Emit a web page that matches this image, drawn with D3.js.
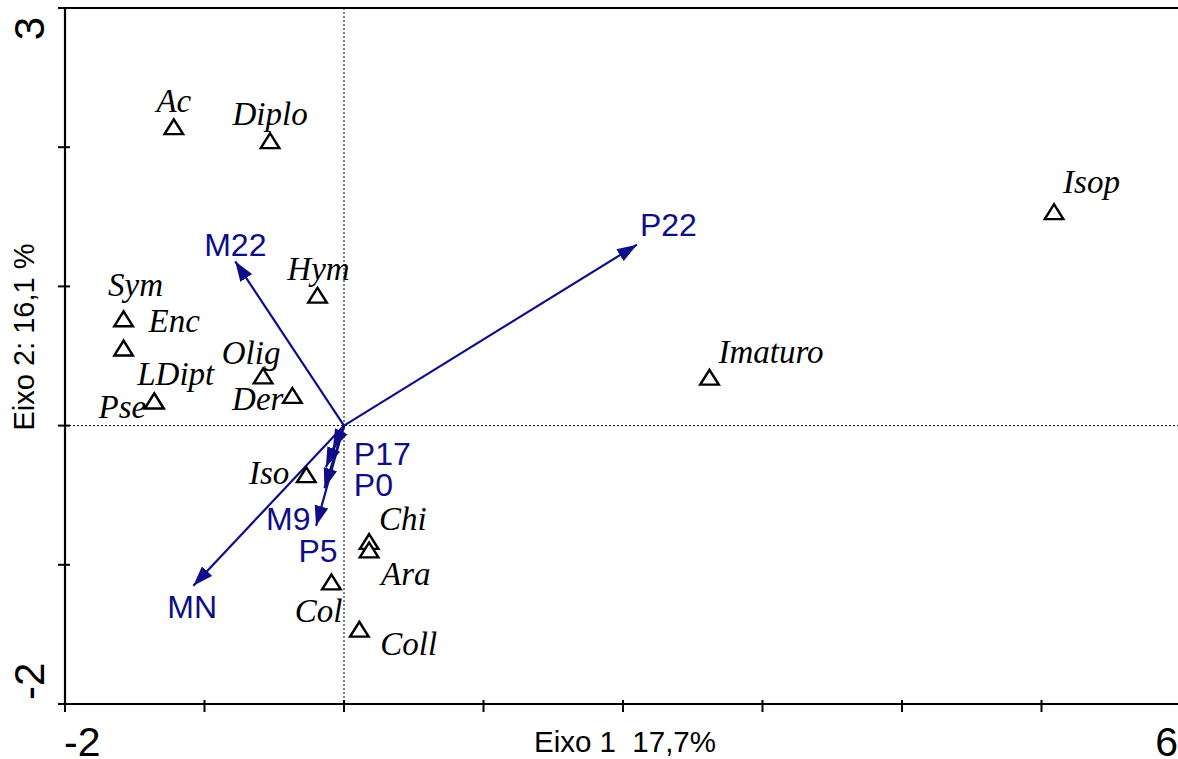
<!DOCTYPE html>
<html>
<head>
<meta charset="utf-8">
<script src="https://cdn.jsdelivr.net/npm/d3@7"></script>
<style>
  html, body { margin: 0; padding: 0; background: #fff; }
  svg { display: block; }
</style>
</head>
<body>
<svg id="chart" width="1178" height="759"></svg>
<script>
// ---------- data ----------
const speciesNames = ["Ac","Diplo","Isop","Hym","Sym","Enc","LDipt","Pse","Olig","Der","Imaturo","Iso","Chi","Ara","Col","Coll"];
const speciesX =     [-1.22,-0.53, 5.09,-0.19,-1.58,-1.58,-1.36,-1.36,-0.58,-0.37, 2.62,-0.27, 0.18, 0.18,-0.09, 0.11];
const speciesY =     [ 2.14, 2.04, 1.53, 0.93, 0.76, 0.55, 0.17, 0.17, 0.35, 0.21, 0.34,-0.36,-0.84,-0.90,-1.13,-1.47];

const envNames = ["P22","M22","MN","M9","P5","P0","P17"];
const envX =     [ 2.10,-0.78,-1.08,-0.20,-0.14,-0.13,-0.08];
const envY =     [ 1.30, 1.18,-1.15,-0.72,-0.45,-0.30,-0.17];

const xDomain = [-2, 6];
const yDomain = [-2, 3];
const xTickLabels = ["-2", "6"];
const yTickLabels = ["3", "-2"];
const xTitle = "Eixo 1  17,7%";
const yTitle = "Eixo 2: 16,1 %";

// ---------- layout (label placement, px offsets) ----------
const spLabel = {
  Ac:{dx:0,dy:-16,a:"middle"}, Diplo:{dx:0,dy:-17,a:"middle"}, Isop:{dx:9,dy:-20,a:"start"},
  Hym:{dx:1,dy:-16,a:"middle"}, Sym:{dx:12,dy:-24,a:"middle"}, Enc:{dx:25,dy:-17,a:"start"},
  LDipt:{dx:-17,dy:-17,a:"start"}, Pse:{dx:-8,dy:16,a:"end"}, Olig:{dx:-12,dy:-13,a:"middle"},
  Der:{dx:-9,dy:14,a:"end"}, Imaturo:{dx:9,dy:-15,a:"start"}, Iso:{dx:-17,dy:8,a:"end"},
  Chi:{dx:10,dy:-13,a:"start"}, Ara:{dx:12,dy:34,a:"start"}, Col:{dx:11,dy:39,a:"end"},
  Coll:{dx:21,dy:25,a:"start"}
};
const envLabel = {
  P22:{dx:3,dy:-9,a:"start"}, M22:{dx:-31,dy:-5,a:"start"}, MN:{dx:-26,dy:32,a:"start"},
  M9:{dx:-50,dy:4,a:"start"}, P5:{dx:-26,dy:74,a:"start"}, P0:{dx:28,dy:29,a:"start"},
  P17:{dx:21,dy:16,a:"start"}
};

const navy = "#0e0e86";
const svg = d3.select("#chart");
const x = d3.scaleLinear().domain(xDomain).range([65, 1181]);
const y = d3.scaleLinear().domain(yDomain).range([704, 8]);

// arrow marker
svg.append("defs").append("marker")
  .attr("id","ah").attr("markerUnits","userSpaceOnUse")
  .attr("viewBox","0 -7 20 14").attr("refX",20).attr("refY",0)
  .attr("markerWidth",20).attr("markerHeight",14).attr("orient","auto")
  .append("path").attr("d","M0,-7L20,0L0,7Z").attr("fill",navy);

// dotted zero lines
svg.append("line").attr("x1",x(0)).attr("x2",x(0)).attr("y1",y(3)).attr("y2",y(-2))
  .attr("stroke","#000").attr("stroke-width",1).attr("stroke-dasharray","2,2");
svg.append("line").attr("x1",x(-2)).attr("x2",x(6)).attr("y1",y(0)).attr("y2",y(0))
  .attr("stroke","#000").attr("stroke-width",1).attr("stroke-dasharray","2,2");

// frame
const frame = svg.append("g").attr("stroke","#000").attr("stroke-width",2.2);
frame.append("line").attr("x1",x(-2)).attr("x2",x(-2)).attr("y1",y(3)).attr("y2",y(-2));
frame.append("line").attr("x1",x(-2)).attr("x2",x(6)).attr("y1",y(3)).attr("y2",y(3));
frame.append("line").attr("x1",x(-2)).attr("x2",x(6)).attr("y1",y(-2)).attr("y2",y(-2));

// ticks
const tk = svg.append("g").attr("stroke","#000").attr("stroke-width",2);
tk.selectAll(".xt").data(x.ticks(8)).join("line")
  .attr("x1",d=>x(d)).attr("x2",d=>x(d)).attr("y1",y(-2)-4).attr("y2",y(-2)+8);
tk.selectAll(".yt").data(y.ticks(5)).join("line")
  .attr("y1",d=>y(d)).attr("y2",d=>y(d)).attr("x1",x(-2)-7).attr("x2",x(-2)+5);

// tick labels
const tickFont = "'Liberation Sans', Arial, sans-serif";
svg.append("text").attr("x",x(-2)-1).attr("y",756).attr("text-anchor","start")
  .attr("font-family",tickFont).attr("font-size",41).text(xTickLabels[0]);
svg.append("text").attr("x",1178).attr("y",756).attr("text-anchor","end")
  .attr("font-family",tickFont).attr("font-size",41).text(xTickLabels[1]);
svg.append("text").attr("transform",`translate(44,${y(3)+9}) rotate(-90)`).attr("text-anchor","end")
  .attr("font-family",tickFont).attr("font-size",42).text(yTickLabels[0]);
svg.append("text").attr("transform",`translate(44,${y(-2)-4}) rotate(-90)`).attr("text-anchor","start")
  .attr("font-family",tickFont).attr("font-size",42).text(yTickLabels[1]);

// axis titles
svg.append("text").attr("x",625).attr("y",752).attr("text-anchor","middle")
  .attr("font-family",tickFont).attr("font-size",29.5)
  .style("white-space","pre").text(xTitle);
svg.append("text").attr("transform","translate(34,337) rotate(-90)").attr("text-anchor","middle")
  .attr("font-family",tickFont).attr("font-size",29).text(yTitle);

// env arrows
const envData = envNames.map((n,i)=>({name:n, x:envX[i], y:envY[i]}));
svg.append("g").selectAll("line").data(envData).join("line")
  .attr("x1",x(0)).attr("y1",y(0)).attr("x2",d=>x(d.x)).attr("y2",d=>y(d.y))
  .attr("stroke",navy).attr("stroke-width",2.2).attr("marker-end","url(#ah)");
svg.append("g").selectAll("text").data(envData).join("text")
  .attr("x",d=>x(d.x)+envLabel[d.name].dx).attr("y",d=>y(d.y)+envLabel[d.name].dy)
  .attr("text-anchor",d=>envLabel[d.name].a)
  .attr("font-family",tickFont).attr("font-size",32).attr("fill",navy).text(d=>d.name);

// species triangles
const spData = speciesNames.map((n,i)=>({name:n, x:speciesX[i], y:speciesY[i]}));
const tri = d3.symbol().type(d3.symbolTriangle).size(150);
svg.append("g").selectAll("path").data(spData).join("path")
  .attr("transform",d=>`translate(${x(d.x)},${y(d.y)+1.5}) scale(1.0,0.92)`)
  .attr("d",tri).attr("fill","#fff").attr("stroke","#000").attr("stroke-width",2.5);
svg.append("g").selectAll("text").data(spData).join("text")
  .attr("x",d=>x(d.x)+spLabel[d.name].dx).attr("y",d=>y(d.y)+spLabel[d.name].dy)
  .attr("text-anchor",d=>spLabel[d.name].a)
  .attr("font-family","'Liberation Serif', 'Times New Roman', serif").attr("font-style","italic")
  .attr("font-size",33).text(d=>d.name);
</script>
</body>
</html>
